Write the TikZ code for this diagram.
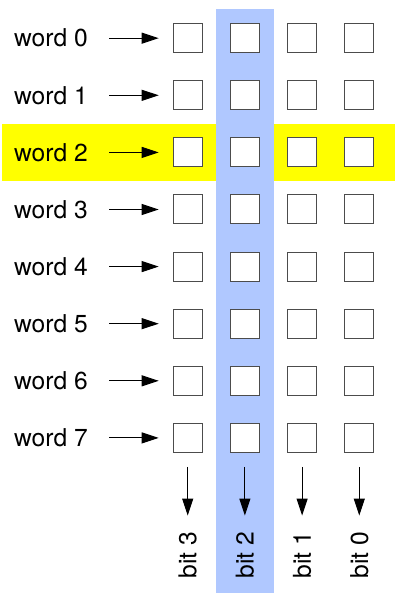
\documentclass[tikz,border=0pt]{standalone}
\usepackage{fontspec}
\setmainfont{TeX Gyre Heros}
\usetikzlibrary{arrows.meta}
\definecolor{colblue}{RGB}{176,200,255}
\definecolor{rowyellow}{RGB}{255,255,0}
\tikzset{
  cell/.style={draw=black!70, line width=1pt, fill=white, minimum width=29pt, minimum height=29pt, inner sep=0pt},
  lbl/.style={inner sep=0pt, font=\fontsize{24.6}{28}\selectfont},
  arr/.style={line width=1pt, -{Triangle[length=17pt,width=11pt]}},
}
\begin{document}
\begin{tikzpicture}[x=1pt,y=-1pt]
\useasboundingbox (0,0) rectangle (395,593);
\fill[rowyellow] (2,124) rectangle (395,181);
\fill[colblue] (216,9) rectangle (274,593);
\foreach \r in {0,...,7}{
  \pgfmathsetmacro{\yy}{38.2+57.1*\r}
  \node[lbl, anchor=west] (w\r) at (14,\yy) {word \r};
  \coordinate (a\r) at (109,\yy);
  \foreach \c [count=\i from 0] in {3,2,1,0}{
    \node[cell] (b\r\c) at (187.7+57.2*\i,\yy) {};
  }
  \draw[arr, shorten >=14pt] (a\r) -- (b\r3.west);
}
\foreach \c [count=\i from 0] in {3,2,1,0}{
  \node[lbl, rotate=90] (bit\c) at (187.7+57.2*\i,555) {bit \c};
  \draw[arr, shorten <=14pt, shorten >=16pt] (b7\c.south) -- (bit\c.east);
}
\end{tikzpicture}
\end{document}
